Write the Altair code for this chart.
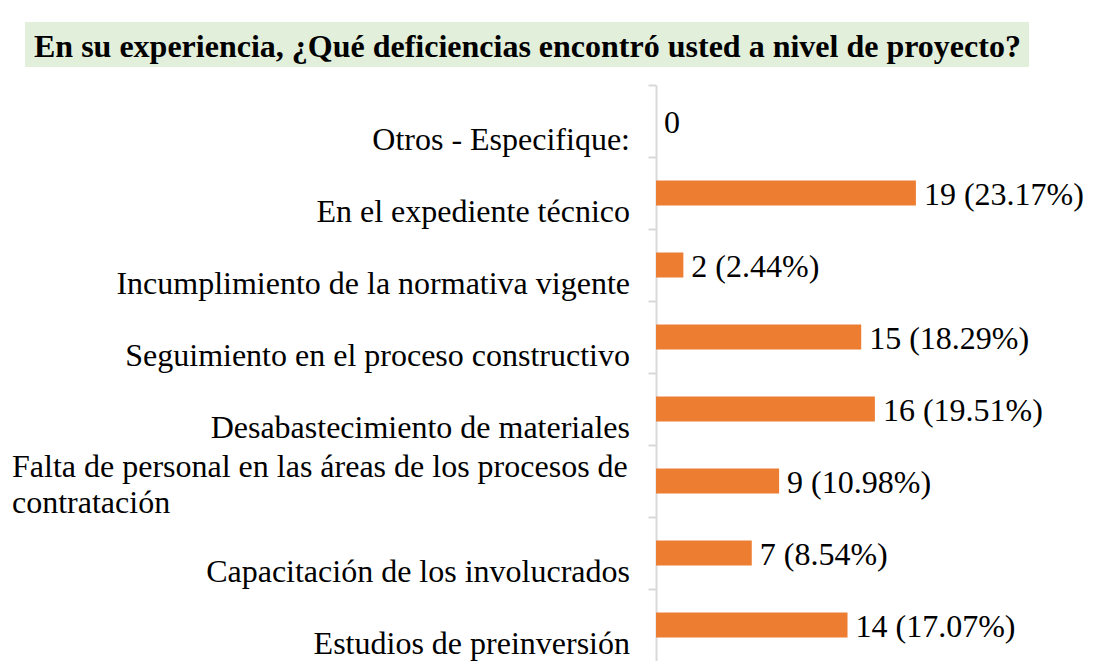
import altair as alt
import pandas as pd

title_text = "En su experiencia, ¿Qué deficiencias encontró usted a nivel de proyecto?"

categories = [
    "Otros - Especifique:",
    "En el expediente técnico",
    "Incumplimiento de la normativa vigente",
    "Seguimiento en el proceso constructivo",
    "Desabastecimiento de materiales",
    "Falta de personal en las áreas de los procesos de contratación",
    "Capacitación de los involucrados",
    "Estudios de preinversión",
]
label_lines = [
    ["Otros - Especifique:"],
    ["En el expediente técnico"],
    ["Incumplimiento de la normativa vigente"],
    ["Seguimiento en el proceso constructivo"],
    ["Desabastecimiento de materiales"],
    ["Falta de personal en las áreas de los procesos de", "contratación"],
    ["Capacitación de los involucrados"],
    ["Estudios de preinversión"],
]
counts = [0, 19, 2, 15, 16, 9, 7, 14]
percents = [0.0, 23.17, 2.44, 18.29, 19.51, 10.98, 8.54, 17.07]

value_labels = ["0" if c == 0 else f"{c} ({p:.2f}%)" for c, p in zip(counts, percents)]

df = pd.DataFrame({
    "cat": categories,
    "count": counts,
    "vlabel": value_labels,
    "lines": label_lines,
    "multi": [len(l) > 1 for l in label_lines],
})

FONT = "Liberation Serif, 'Times New Roman', Times, serif"
ORANGE = "#ED7D31"
GRAY = "#D9D9D9"

y_enc = alt.Y(
    "cat:N",
    sort=categories,
    scale=alt.Scale(paddingInner=0, paddingOuter=0),
    axis=alt.Axis(
        title=None, labels=False, grid=False,
        domainColor=GRAY, domainWidth=2,
        tickColor=GRAY, tickWidth=2, tickSize=8,
        bandPosition=0,
    ),
)
x_enc = alt.X(
    "count:Q",
    scale=alt.Scale(domain=[0, 31.36], nice=False, zero=True),
    axis=None,
)

base = alt.Chart(df)

bars = base.mark_bar(color=ORANGE, size=25).encode(x=x_enc, y=y_enc)

values = base.mark_text(
    align="left", baseline="middle", dx=8, dy=2,
    font=FONT, fontSize=32, color="#000000",
).encode(x=x_enc, y=y_enc, text="vlabel:N")

single_labels = base.transform_filter("!datum.multi").mark_text(
    align="right", baseline="alphabetic", dy=29,
    font=FONT, fontSize=32, color="#000000",
).encode(x=alt.value(-26), y=y_enc, text="lines")

multi_labels = base.transform_filter("datum.multi").mark_text(
    align="left", baseline="alphabetic", dy=-4, lineHeight=36,
    font=FONT, fontSize=32, color="#000000",
).encode(x=alt.value(-644), y=y_enc, text="lines")

title_df = pd.DataFrame({"t": [title_text]})
title_bg = alt.Chart(title_df).mark_rect(color="#E2EFDA").encode(
    x=alt.value(-631), x2=alt.value(373),
    y=alt.value(-63), y2=alt.value(-18),
)
title_txt = alt.Chart(title_df).mark_text(
    align="left", baseline="alphabetic",
    font=FONT, fontSize=32, fontWeight="bold", color="#000000",
).encode(x=alt.value(-622), y=alt.value(-28), text="t:N")

chart = alt.layer(
    title_bg, title_txt, bars, values, single_labels, multi_labels
).properties(
    width=429, height=576,
    padding={"left": 648, "top": 77, "right": 0, "bottom": 0},
    autosize=alt.AutoSizeParams(type="none"),
).configure(background="#FFFFFF").configure_view(stroke=None)

chart.save("out.html", embed_options={"renderer": "svg", "actions": False})
